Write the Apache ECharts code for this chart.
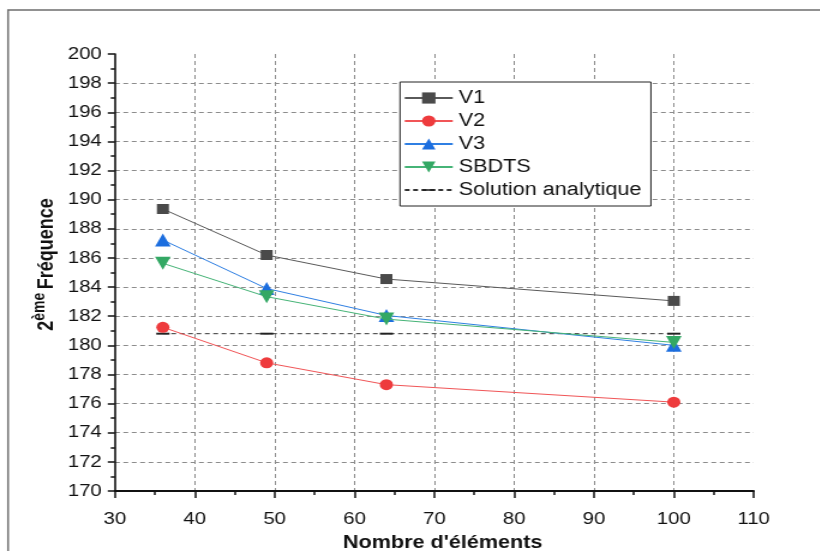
<!DOCTYPE html>
<html>
<head>
<meta charset="utf-8">
<script src="https://cdn.jsdelivr.net/npm/echarts@6/dist/echarts.min.js"></script>
<style>
  html, body { margin: 0; padding: 0; background: #fff; overflow: hidden; }
  /* the figure is laid out on a narrower canvas and widened horizontally */
  #chart { width: 683.33px; height: 551px; transform: scaleX(1.2); transform-origin: 0 0; }
</style>
</head>
<body>
<div id="chart"></div>
<script>
// Number of elements (mesh sizes)
const elements = [36, 49, 64, 100];

// 2nd frequency for each formulation
const v1 = [189.36, 186.2, 184.55, 183.05];
const v2 = [181.24, 178.8, 177.3, 176.1];
const v3 = [187.23, 183.9, 182.05, 180.0];
const sbdts = [185.63, 183.34, 181.8, 180.2];
const analytique = [180.8, 180.8, 180.8, 180.8];

const seriesNames = ['V1', 'V2', 'V3', 'SBDTS', 'Solution analytique'];

const pairs = (ys) => elements.map((x, i) => [x, ys[i]]);

const font = '"Liberation Sans", Arial, sans-serif';
const dashBar = 'path://M0,0L0,0M0,10L0,10M0,4.3H10V5.7H0Z';

const chart = echarts.init(document.getElementById('chart'), null, { renderer: 'canvas' });

chart.setOption({
  animation: false,
  backgroundColor: '#fff',
  textStyle: { fontFamily: font },
  graphic: [{
    type: 'rect',
    silent: true,
    z: -10,
    shape: { x: 6.7, y: 10, width: 760, height: 620 },
    style: { fill: 'none', stroke: '#6e6e6e', lineWidth: 1.5 }
  }],
  grid: {
    left: 95.8, right: 55, top: 54, bottom: 60,
    containLabel: false, outerBoundsMode: 'none'
  },
  legend: {
    data: seriesNames,
    orient: 'vertical',
    left: 333.3, top: 82,
    padding: [7, 8, 7, 3],
    itemWidth: 40, itemHeight: 14, itemGap: 5,
    backgroundColor: '#fff',
    borderColor: '#222', borderWidth: 1, borderRadius: 0,
    symbolRotate: 'inherit',
    textStyle: { fontFamily: font, fontSize: 18, lineHeight: 18, color: '#111' }
  },
  xAxis: {
    type: 'value',
    min: 30, max: 110, interval: 10,
    name: "Nombre d'éléments",
    nameLocation: 'middle', nameGap: 43, nameMoveOverlap: false,
    nameTextStyle: { fontFamily: font, fontSize: 18, fontWeight: 'bold', color: '#111', padding: [0, 0, 0, 14] },
    axisLine: { show: true, onZero: false, lineStyle: { color: '#111', width: 2 } },
    axisTick: { show: true, inside: false, length: 7, lineStyle: { color: '#111', width: 1.5 } },
    minorTick: { show: true, splitNumber: 2, length: 4, lineStyle: { color: '#111', width: 1.5 } },
    axisLabel: { fontFamily: font, fontSize: 17, color: '#111', margin: 20 },
    splitLine: { show: true, showMinLine: false, showMaxLine: false, lineStyle: { color: '#8c8c8c', type: [4, 3], width: 1 } }
  },
  yAxis: {
    type: 'value',
    min: 170, max: 200, interval: 2,
    name: '{n|2}{sup|ème} {b|Fréquence}',
    nameLocation: 'middle', nameRotate: 90, nameGap: 48, nameMoveOverlap: false,
    nameTextStyle: {
      fontFamily: font, color: '#111', padding: [0, 0, 0, 16],
      rich: {
        n: { fontFamily: font, fontSize: 18, fontWeight: 'bold', color: '#111', lineHeight: 22, verticalAlign: 'bottom' },
        sup: { fontFamily: font, fontSize: 14, fontWeight: 'bold', color: '#111', lineHeight: 22, verticalAlign: 'top', padding: [0, 0, 8, 0] },
        b: { fontFamily: font, fontSize: 18, fontWeight: 'bold', color: '#111', lineHeight: 22, verticalAlign: 'bottom' }
      }
    },
    axisLine: { show: true, onZero: false, lineStyle: { color: '#111', width: 1.6 } },
    axisTick: { show: true, inside: false, length: 6, lineStyle: { color: '#111', width: 1.5 } },
    minorTick: { show: true, splitNumber: 2, length: 3.5, lineStyle: { color: '#111', width: 1.5 } },
    axisLabel: { fontFamily: font, fontSize: 17, color: '#111', margin: 11 },
    splitLine: { show: true, showMinLine: false, showMaxLine: false, lineStyle: { color: '#8c8c8c', type: [4, 3], width: 1 } }
  },
  series: [
    {
      name: 'V1', type: 'line', data: pairs(v1), z: 5,
      symbol: 'rect', symbolSize: 10,
      itemStyle: { color: '#4a4a4a' },
      lineStyle: { color: '#5a5a5a', width: 1 }
    },
    {
      name: 'V2', type: 'line', data: pairs(v2), z: 5,
      symbol: 'circle', symbolSize: 11,
      itemStyle: { color: '#ee3b3d' },
      lineStyle: { color: '#f15557', width: 1 }
    },
    {
      name: 'V3', type: 'line', data: pairs(v3), z: 5,
      symbol: 'triangle', symbolSize: 13,
      itemStyle: { color: '#1c6edf' },
      lineStyle: { color: '#2f7fe3', width: 1 }
    },
    {
      name: 'SBDTS', type: 'line', data: pairs(sbdts), z: 6,
      symbol: 'triangle', symbolSize: 13, symbolRotate: 180,
      itemStyle: { color: '#33a864' },
      lineStyle: { color: '#46b477', width: 1 }
    },
    {
      name: 'Solution analytique', type: 'line', data: pairs(analytique), z: 4,
      symbol: dashBar, symbolSize: [11, 14],
      itemStyle: { color: '#222' },
      lineStyle: { color: '#333', width: 1, type: [4, 3] }
    }
  ]
});
</script>
</body>
</html>
